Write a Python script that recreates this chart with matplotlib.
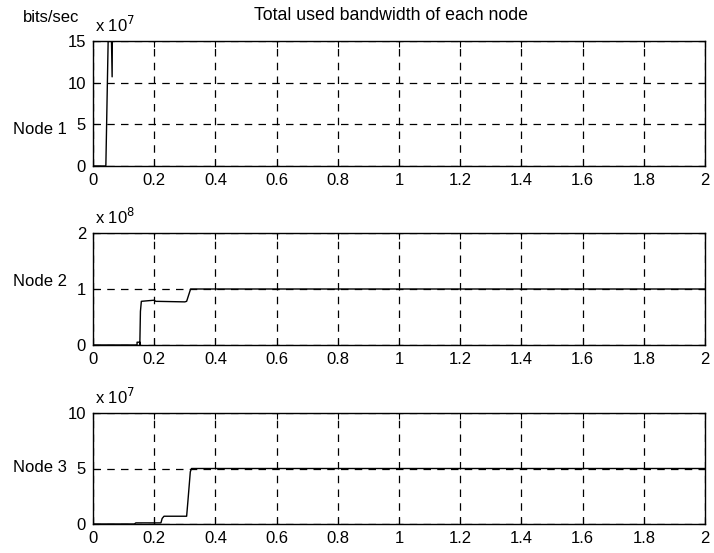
import numpy as np
import matplotlib
matplotlib.use("Agg")
import matplotlib.pyplot as plt

plt.rcParams['font.family'] = ['Liberation Sans', 'DejaVu Sans']

# Node 1: burst right after start (goes off the top of the scale)
t1 = [0.0, 0.042, 0.052, 0.058, 0.0625, 0.064, 0.070]
v1 = [0.0, 0.0, 2.0e8, 2.0e8, 1.07e8, 2.0e8, np.nan]

# Node 2
t2 = [0.0, 0.140, 0.144, 0.144, 0.153, 0.153, 0.155, 0.158, 0.200, 0.205,
      0.300, 0.306, 0.319, 2.0]
v2 = [0.0, 0.0, 0.0, 0.05e8, 0.05e8, 0.0, 0.60e8, 0.78e8, 0.80e8, 0.78e8,
      0.77e8, 0.78e8, 1.0e8, 1.0e8]

# Node 3
t3 = [0.0, 0.135, 0.140, 0.222, 0.226, 0.232, 0.306, 0.310, 0.318, 0.322, 2.0]
v3 = [0.0, 0.0, 0.1e7, 0.1e7, 0.5e7, 0.7e7, 0.7e7, 2.0e7, 4.7e7, 5.0e7, 5.0e7]

node_labels = ["Node 1", "Node 2", "Node 3"]
scales = [1e7, 1e8, 1e7]
scale_text = [r"x 10$^{7}$", r"x 10$^{8}$", r"x 10$^{7}$"]
yticks = [[0, 5, 10, 15], [0, 1, 2], [0, 5, 10]]
xticks = np.round(np.arange(0, 2.01, 0.2), 1)
xticklabels = ["0", "0.2", "0.4", "0.6", "0.8", "1", "1.2", "1.4", "1.6", "1.8", "2"]

W, H = 714, 553
fig = plt.figure(figsize=(W / 100, H / 100), dpi=100)

# axes boxes in pixels: (left, top, right, bottom)
boxes = [(93, 41, 705, 166), (93, 233, 705, 345), (93, 413, 705, 524)]
label_y = [130, 282, 468]
series = [(t1, v1), (t2, v2), (t3, v3)]

fs = 12
for i, ((l, t, r, b), (tt, vv)) in enumerate(zip(boxes, series)):
    ax = fig.add_axes([l / W, 1 - b / H, (r - l) / W, (b - t) / H])
    ax.plot(tt, np.asarray(vv) / scales[i], color='black', lw=1.0, clip_on=True)
    ax.set_xlim(0, 2)
    ax.set_ylim(yticks[i][0], yticks[i][-1])
    ax.set_xticks(xticks)
    ax.set_xticklabels(xticklabels)
    ax.set_yticks(yticks[i])
    ax.tick_params(direction='in', length=4, width=0.8, top=True, right=True,
                   labelsize=fs, pad=5)
    ax.grid(True, color='black', linestyle=(0, (6, 5)), linewidth=0.9)
    for s in ax.spines.values():
        s.set_linewidth(1.0)
    fig.text(l / W + 0.003, 1 - (t - 16) / H, scale_text[i], fontsize=fs,
             ha='left', va='center')
    fig.text(13 / W, 1 - label_y[i] / H, node_labels[i], fontsize=fs,
             ha='left', va='center')

fig.text(23 / W, 1 - 18 / H, "bits/sec", fontsize=fs, ha='left', va='center')
fig.text(391 / W, 1 - 15 / H, "Total used bandwidth of each node", fontsize=12.8,
         ha='center', va='center')

fig.savefig("out.png", dpi=100)
